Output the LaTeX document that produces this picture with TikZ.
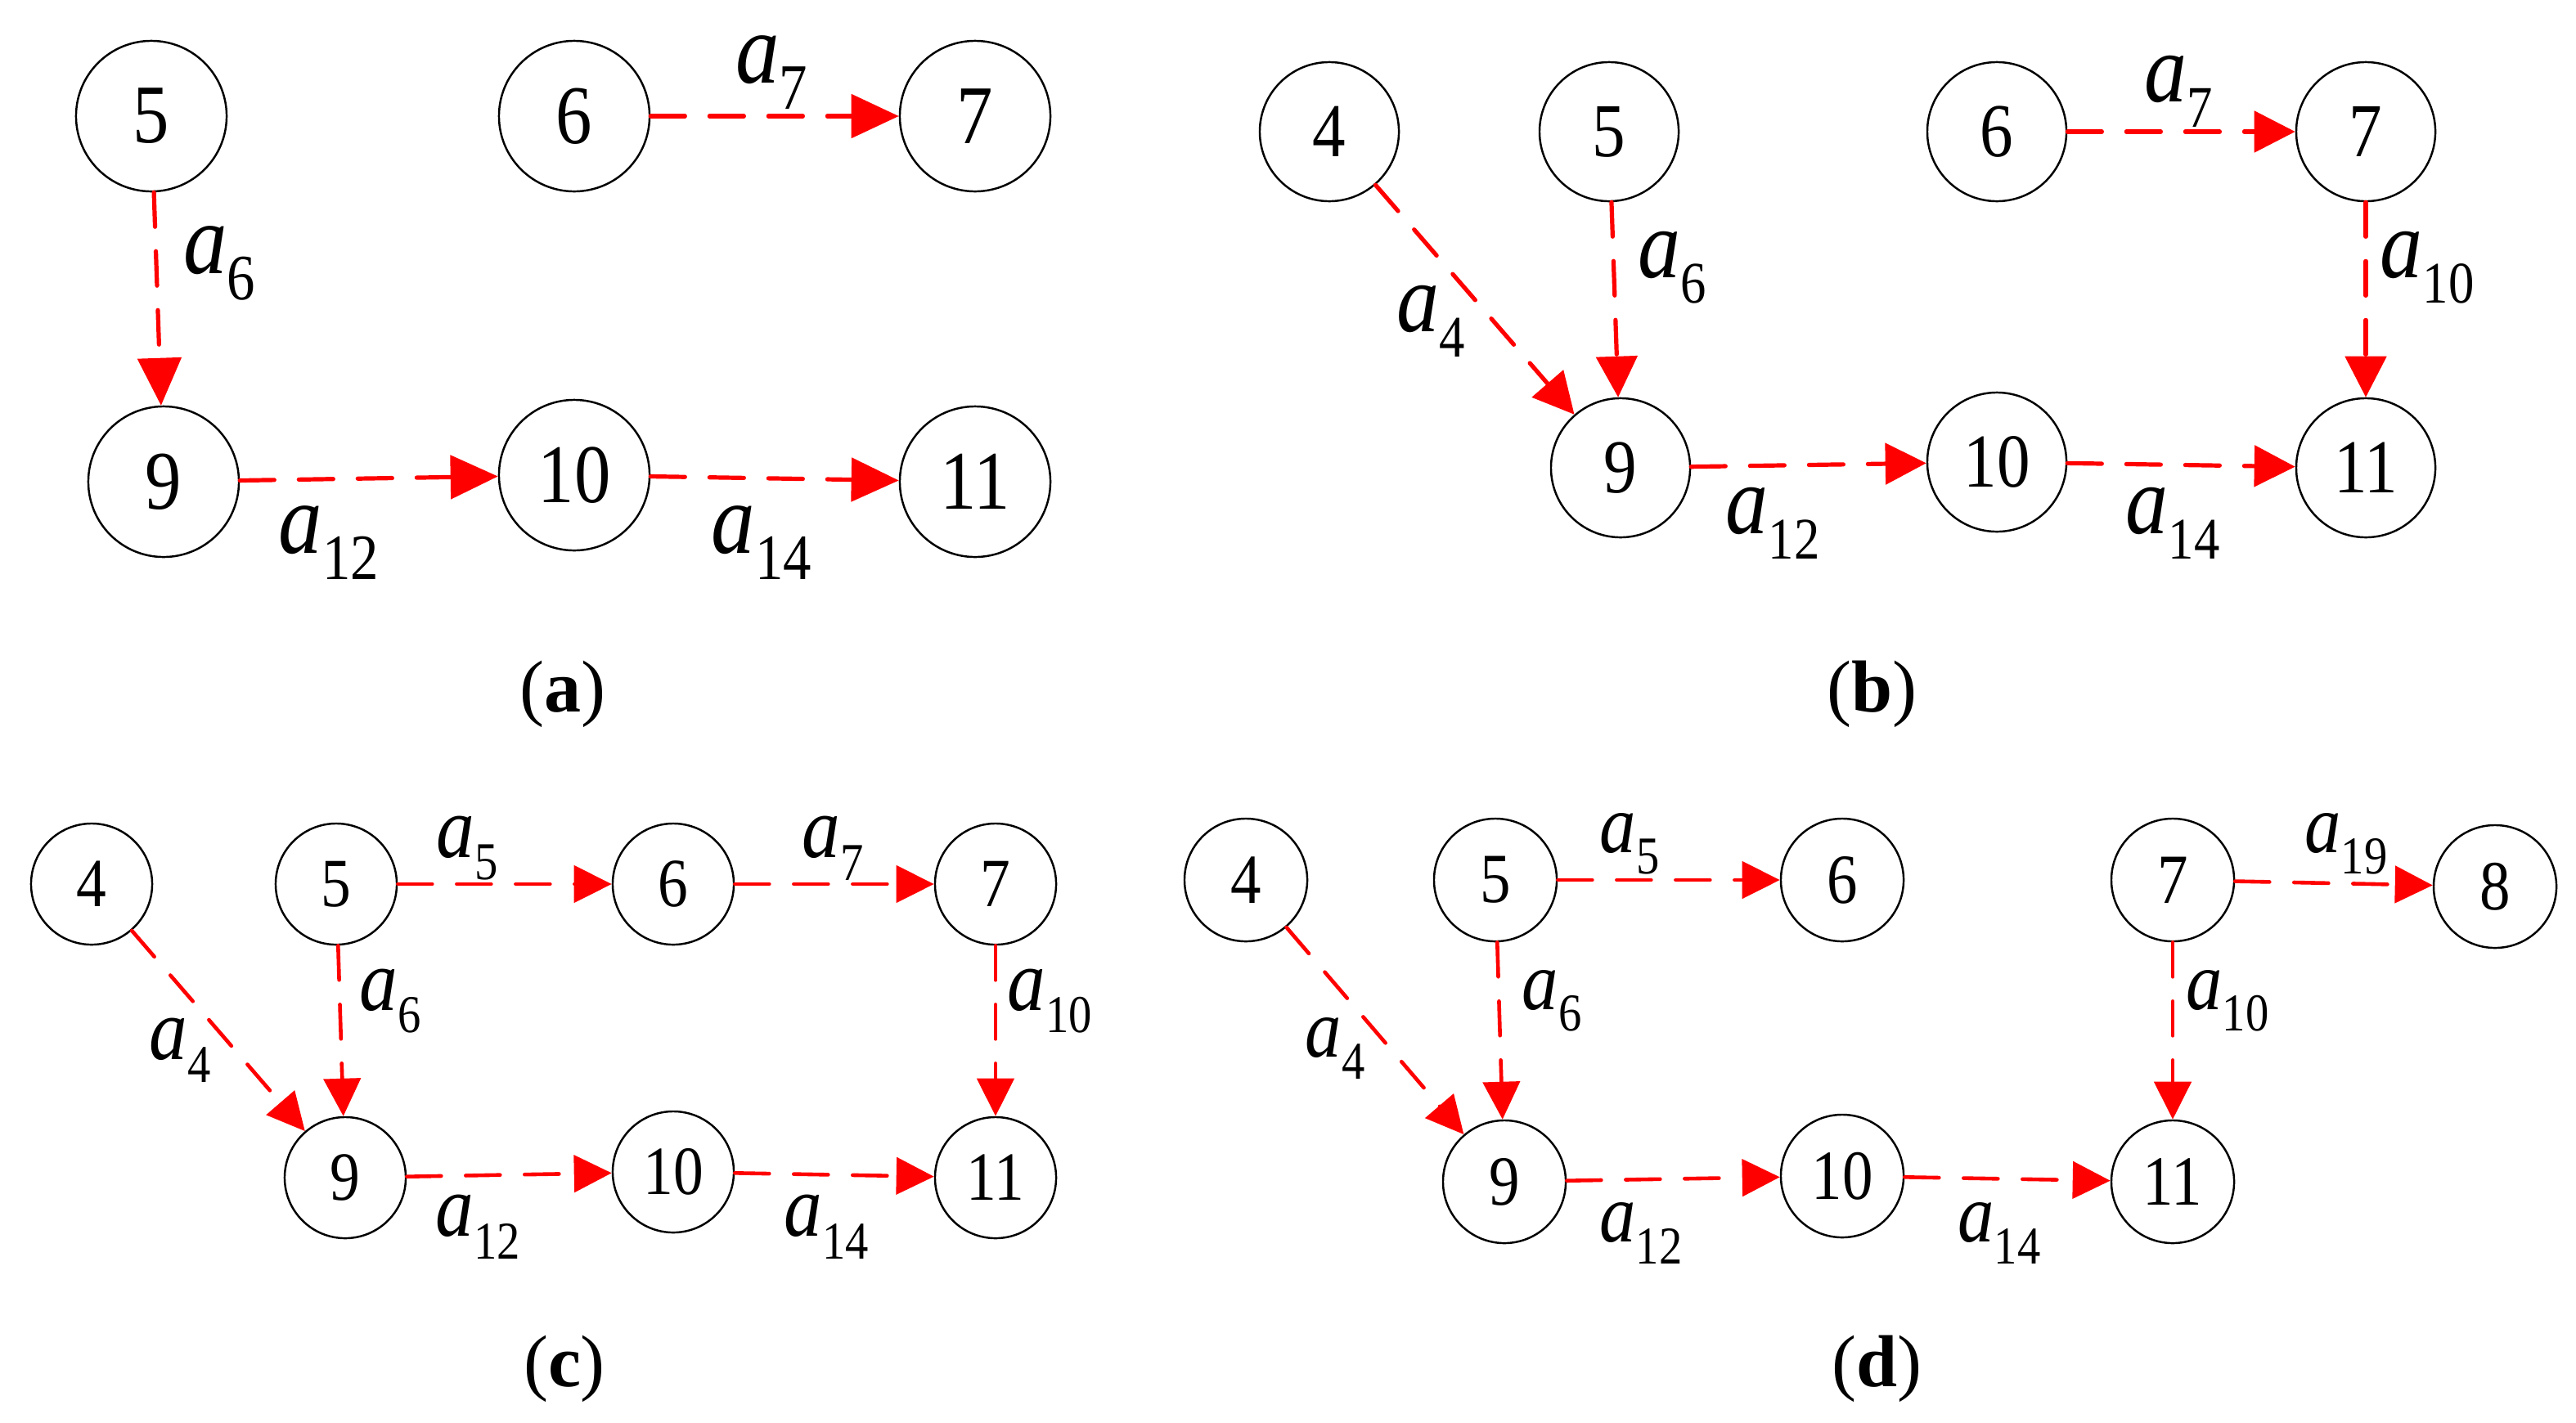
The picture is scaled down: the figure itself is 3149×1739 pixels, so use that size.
\documentclass[tikz,border=0pt]{standalone}
\usepackage{fontspec}
\setmainfont{Liberation Serif}[FakeStretch=0.87]
\newfontfamily\capfont{Liberation Serif}
\usetikzlibrary{arrows.meta}
\newcommand{\albl}[2]{\textit{a}\raisebox{-0.26em}{\fontsize{#2}{#2}\selectfont #1}}
\tikzset{
  vtx/.style={circle, draw, line width=0.7pt, inner sep=0pt},
  vA/.style={vtx, minimum size=1.84cm, font=\fontsize{29}{30}\selectfont},
  vB/.style={vtx, minimum size=1.70cm, font=\fontsize{26.5}{28}\selectfont},
  vC/.style={vtx, minimum size=1.48cm, font=\fontsize{24}{25}\selectfont},
  vD/.style={vtx, minimum size=1.50cm, font=\fontsize{24.5}{25}\selectfont},
  edg/.style={red, line width=0.052cm, dash pattern=on 0.42cm off 0.30cm, line cap=round},
  eA/.style={edg, -{Triangle[length=0.58cm, width=0.53cm]}},
  eB/.style={edg, -{Triangle[length=0.50cm, width=0.50cm]}},
  eC/.style={edg, line width=0.046cm, -{Triangle[length=0.46cm, width=0.45cm]}},
  lA/.style={inner sep=0pt, font=\fontsize{35}{36}\selectfont},
  lB/.style={inner sep=0pt, font=\fontsize{34}{35}\selectfont},
  lC/.style={inner sep=0pt, font=\fontsize{30.5}{31}\selectfont},
  lD/.style={inner sep=0pt, font=\fontsize{29}{30}\selectfont},
  captext/.style={inner sep=0pt, font=\capfont\fontsize{25.6}{27}\selectfont},
}
\begin{document}
\begin{tikzpicture}[x=0.01cm, y=-0.01cm]
\useasboundingbox (0,0) rectangle (3149,1739);
% ---------- panel (a)
\node[vA] (a5) at (185,142) {5};
\node[vA] (a6) at (702,142) {6};
\node[vA] (a7) at (1192,142) {7};
\node[vA] (a9) at (200,589) {9};
\node[vA] (a10) at (702,581) {10};
\node[vA] (a11) at (1192,589) {11};
\draw[eA] (a5) -- (a9);
\draw[eA] (a6) -- (a7);
\draw[eA] (a9) -- (a10);
\draw[eA] (a10) -- (a11);
\node[lA] (la6) at (268,322) {\albl{6}{22.5}};
\node[lA] (la7) at (943,89) {\albl{7}{22.5}};
\node[lA] (la12) at (402,664) {\albl{12}{22.5}};
\node[lA] (la14) at (931,664) {\albl{14}{22.5}};
\node[captext] (capa) at (688,849) {(\textbf{a})};
% ---------- panel (b)
\node[vB] (b4) at (1625,161) {4};
\node[vB] (b5) at (1967,161) {5};
\node[vB] (b6) at (2441,161) {6};
\node[vB] (b7) at (2892,161) {7};
\node[vB] (b9) at (1981,572) {9};
\node[vB] (b10) at (2441,565) {10};
\node[vB] (b11) at (2892,572) {11};
\draw[eB] (b4) -- (b9);
\draw[eB] (b5) -- (b9);
\draw[eB] (b6) -- (b7);
\draw[eB] (b7) -- (b11);
\draw[eB] (b9) -- (b10);
\draw[eB] (b10) -- (b11);
\node[lB] (lb4) at (1749,393) {\albl{4}{20.5}};
\node[lB] (lb6) at (2044,327) {\albl{6}{20.5}};
\node[lB] (lb7) at (2663,112) {\albl{7}{20.5}};
\node[lB] (lb10) at (2967,327) {\albl{10}{20.5}};
\node[lB] (lb12) at (2167,640) {\albl{12}{20.5}};
\node[lB] (lb14) at (2656,640) {\albl{14}{20.5}};
\node[captext] (capb) at (2288,849) {(\textbf{b})};
% ---------- panel (c)
\node[vC] (c4) at (112,1081) {4};
\node[vC] (c5) at (411,1081) {5};
\node[vC] (c6) at (823,1081) {6};
\node[vC] (c7) at (1217,1081) {7};
\node[vC] (c9) at (422,1440) {9};
\node[vC] (c10) at (823,1433) {10};
\node[vC] (c11) at (1217,1440) {11};
\draw[eC] (c4) -- (c9);
\draw[eC] (c5) -- (c6);
\draw[eC] (c5) -- (c9);
\draw[eC] (c6) -- (c7);
\draw[eC] (c7) -- (c11);
\draw[eC] (c9) -- (c10);
\draw[eC] (c10) -- (c11);
\node[lC] (lc5) at (571,1037) {\albl{5}{18.5}};
\node[lC] (lc7) at (1018,1037) {\albl{7}{18.5}};
\node[lC] (lc6) at (477,1224) {\albl{6}{18.5}};
\node[lC] (lc10) at (1283,1224) {\albl{10}{18.5}};
\node[lC] (lc4) at (220,1284) {\albl{4}{18.5}};
\node[lC] (lc12) at (584,1500) {\albl{12}{18.5}};
\node[lC] (lc14) at (1010,1500) {\albl{14}{18.5}};
\node[captext] (capc) at (690,1674) {(\textbf{c})};
% ---------- panel (d)
\node[vD] (d4) at (1523,1076) {4};
\node[vD] (d5) at (1828,1076) {5};
\node[vD] (d6) at (2252,1076) {6};
\node[vD] (d7) at (2656,1076) {7};
\node[vD] (d8) at (3050,1084) {8};
\node[vD] (d9) at (1839,1445) {9};
\node[vD] (d10) at (2252,1438) {10};
\node[vD] (d11) at (2656,1445) {11};
\draw[eC] (d4) -- (d9);
\draw[eC] (d5) -- (d6);
\draw[eC] (d5) -- (d9);
\draw[eC] (d7) -- (d8);
\draw[eC] (d7) -- (d11);
\draw[eC] (d9) -- (d10);
\draw[eC] (d10) -- (d11);
\node[lD] (ld5) at (1992,1032) {\albl{5}{18.5}};
\node[lD] (ld19) at (2868,1032) {\albl{19}{18.5}};
\node[lD] (ld6) at (1897,1224) {\albl{6}{18.5}};
\node[lD] (ld10) at (2723,1224) {\albl{10}{18.5}};
\node[lD] (ld4) at (1632,1282) {\albl{4}{18.5}};
\node[lD] (ld12) at (2006,1508) {\albl{12}{18.5}};
\node[lD] (ld14) at (2444,1508) {\albl{14}{18.5}};
\node[captext] (capd) at (2294,1674) {(\textbf{d})};
\end{tikzpicture}
\end{document}
